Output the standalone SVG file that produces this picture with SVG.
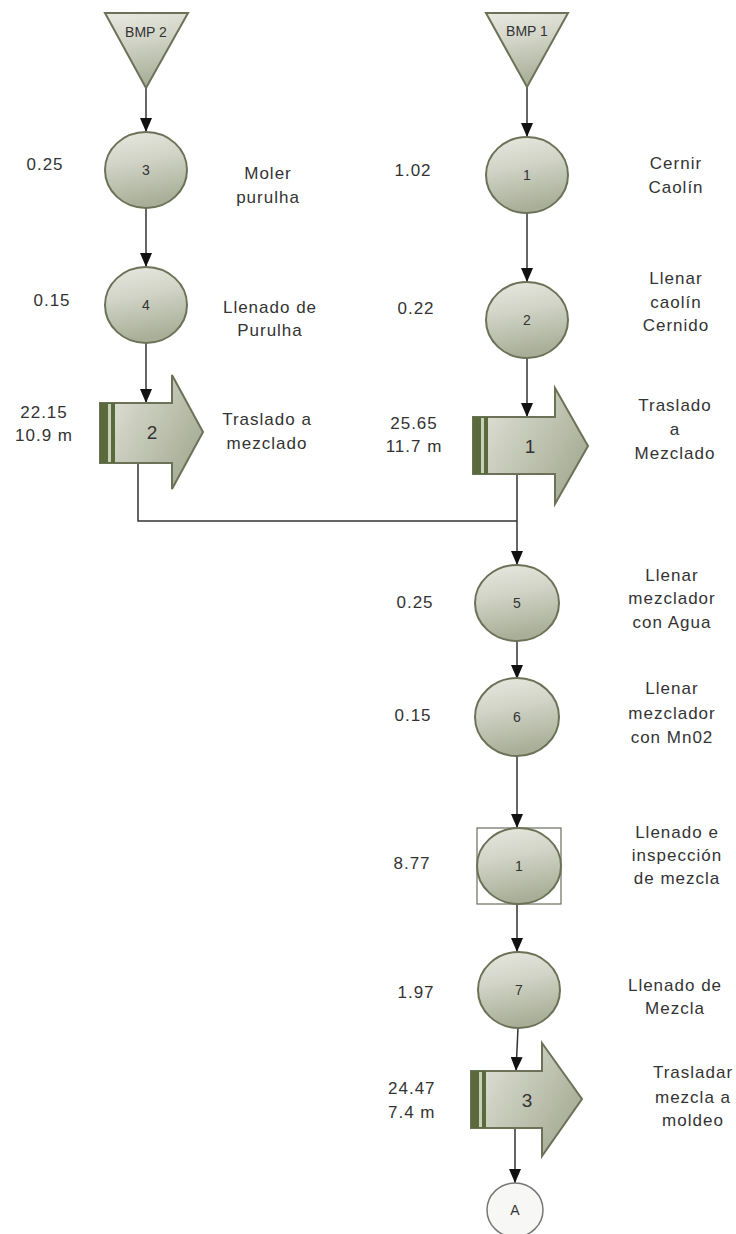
<svg xmlns="http://www.w3.org/2000/svg" width="736" height="1234" viewBox="0 0 736 1234">
  <defs>
    <linearGradient id="gOp" x1="0" y1="0" x2="0.2" y2="1">
      <stop offset="0" stop-color="#e8e9e1"/>
      <stop offset="0.45" stop-color="#d0d3c5"/>
      <stop offset="1" stop-color="#a9ae98"/>
    </linearGradient>
    <linearGradient id="gTr" x1="0" y1="0" x2="1" y2="0.6">
      <stop offset="0" stop-color="#e6e8de"/>
      <stop offset="1" stop-color="#a8ad96"/>
    </linearGradient>
    <marker id="ah" viewBox="0 0 14 12" refX="14" refY="6" markerWidth="14" markerHeight="12" markerUnits="userSpaceOnUse" orient="auto">
      <path d="M0,0 L14,6 L0,12 Z" fill="#111"/>
    </marker>
  </defs>
  <style>
    .op { fill: url(#gOp); stroke: #6b7257; stroke-width: 2; }
    .tr { fill: url(#gTr); stroke: #6b7257; stroke-width: 2; }
    .stripe { fill: #5b6a3c; }
    .stripe2 { fill: #c9d0b8; }
    .box { fill: none; stroke: #6b6f60; stroke-width: 1.2; }
    .term { fill: #f7f7f5; stroke: #777; stroke-width: 1.5; }
    .conn { fill: none; stroke: #333; stroke-width: 1.5; }
    .lbl { font-family: "Liberation Sans", Arial, sans-serif; font-size: 17px; fill: #333; letter-spacing: 1px; text-anchor: middle; }
    .num { font-family: "Liberation Sans", Arial, sans-serif; font-size: 14px; fill: #333; text-anchor: middle; }
    .big { font-family: "Liberation Sans", Arial, sans-serif; font-size: 19px; fill: #333; text-anchor: middle; }
    .bmp { font-family: "Liberation Sans", Arial, sans-serif; font-size: 14px; fill: #333; text-anchor: middle; }
  </style>

  <g id="connectors">
    <line class="conn" x1="146" y1="88" x2="146" y2="132" marker-end="url(#ah)"/>
    <line class="conn" x1="146" y1="208" x2="146" y2="267" marker-end="url(#ah)"/>
    <line class="conn" x1="146" y1="343" x2="146" y2="403" marker-end="url(#ah)"/>
    <polyline class="conn" points="138,463 138,521 517,521"/>
    <line class="conn" x1="527" y1="87" x2="527" y2="137" marker-end="url(#ah)"/>
    <line class="conn" x1="527" y1="213" x2="527" y2="282" marker-end="url(#ah)"/>
    <line class="conn" x1="527" y1="358" x2="527" y2="417" marker-end="url(#ah)"/>
    <line class="conn" x1="517" y1="474" x2="517" y2="565" marker-end="url(#ah)"/>
    <line class="conn" x1="517" y1="641" x2="517" y2="679" marker-end="url(#ah)"/>
    <line class="conn" x1="517" y1="756" x2="517" y2="828" marker-end="url(#ah)"/>
    <line class="conn" x1="517" y1="904" x2="517" y2="952" marker-end="url(#ah)"/>
    <line class="conn" x1="518" y1="1028" x2="516" y2="1071" marker-end="url(#ah)"/>
    <line class="conn" x1="515" y1="1128" x2="515" y2="1183" marker-end="url(#ah)"/>
  </g>

  <g id="bmp2">
    <polygon class="op" points="105,13 188,13 146,88"/>
    <text class="bmp" x="146" y="37">BMP 2</text>
  </g>
  <g id="op3">
    <ellipse class="op" cx="146" cy="170" rx="41" ry="38"/>
    <text class="num" x="146" y="175">3</text>
    <text class="lbl" x="45" y="170">0.25</text>
    <text class="lbl" x="268" y="179">Moler</text>
    <text class="lbl" x="268" y="203">purulha</text>
  </g>
  <g id="op4">
    <ellipse class="op" cx="146" cy="305" rx="41" ry="38"/>
    <text class="num" x="146" y="310">4</text>
    <text class="lbl" x="52" y="306">0.15</text>
    <text class="lbl" x="270" y="313">Llenado de</text>
    <text class="lbl" x="270" y="336">Purulha</text>
  </g>
  <g id="tr2">
    <path class="tr" d="M100,403 H172 V375 L203,432 L172,489 V463 H100 Z"/>
    <rect class="stripe" x="100" y="403" width="15" height="60"/>
    <rect class="stripe2" x="108" y="404" width="3" height="58"/>
    <text class="big" x="152" y="439">2</text>
    <text class="lbl" x="44" y="418">22.15</text>
    <text class="lbl" x="44" y="441">10.9 m</text>
    <text class="lbl" x="267" y="425">Traslado a</text>
    <text class="lbl" x="267" y="449">mezclado</text>
  </g>

  <g id="bmp1">
    <polygon class="op" points="486,13 568,13 527,87"/>
    <text class="bmp" x="527" y="36">BMP 1</text>
  </g>
  <g id="op1">
    <ellipse class="op" cx="527" cy="175" rx="41" ry="38"/>
    <text class="num" x="527" y="180">1</text>
    <text class="lbl" x="413" y="176">1.02</text>
    <text class="lbl" x="676" y="169">Cernir</text>
    <text class="lbl" x="676" y="193">Caolín</text>
  </g>
  <g id="op2">
    <ellipse class="op" cx="527" cy="320" rx="41" ry="38"/>
    <text class="num" x="527" y="325">2</text>
    <text class="lbl" x="416" y="314">0.22</text>
    <text class="lbl" x="676" y="284">Llenar</text>
    <text class="lbl" x="676" y="308">caolín</text>
    <text class="lbl" x="676" y="331">Cernido</text>
  </g>
  <g id="tr1">
    <path class="tr" d="M473,417 H555 V388 L588,446 L555,504 V474 H473 Z"/>
    <rect class="stripe" x="473" y="417" width="15" height="57"/>
    <rect class="stripe2" x="481" y="418" width="3" height="55"/>
    <text class="big" x="530" y="453">1</text>
    <text class="lbl" x="414" y="429">25.65</text>
    <text class="lbl" x="414" y="452">11.7 m</text>
    <text class="lbl" x="675" y="411">Traslado</text>
    <text class="lbl" x="675" y="435">a</text>
    <text class="lbl" x="675" y="459">Mezclado</text>
  </g>
  <g id="op5">
    <ellipse class="op" cx="517" cy="603" rx="42" ry="38"/>
    <text class="num" x="517" y="608">5</text>
    <text class="lbl" x="415" y="608">0.25</text>
    <text class="lbl" x="672" y="581">Llenar</text>
    <text class="lbl" x="672" y="604">mezclador</text>
    <text class="lbl" x="672" y="628">con Agua</text>
  </g>
  <g id="op6">
    <ellipse class="op" cx="517" cy="717" rx="42" ry="39"/>
    <text class="num" x="517" y="722">6</text>
    <text class="lbl" x="413" y="721">0.15</text>
    <text class="lbl" x="672" y="694">Llenar</text>
    <text class="lbl" x="672" y="719">mezclador</text>
    <text class="lbl" x="672" y="743">con Mn02</text>
  </g>
  <g id="insp1">
    <rect class="box" x="477" y="828" width="84" height="76"/>
    <ellipse class="op" cx="519" cy="866" rx="42" ry="38"/>
    <text class="num" x="519" y="871">1</text>
    <text class="lbl" x="412" y="869">8.77</text>
    <text class="lbl" x="677" y="838">Llenado e</text>
    <text class="lbl" x="677" y="861">inspección</text>
    <text class="lbl" x="677" y="884">de mezcla</text>
  </g>
  <g id="op7">
    <ellipse class="op" cx="519" cy="990" rx="41" ry="38"/>
    <text class="num" x="519" y="995">7</text>
    <text class="lbl" x="416" y="998">1.97</text>
    <text class="lbl" x="675" y="991">Llenado de</text>
    <text class="lbl" x="675" y="1014">Mezcla</text>
  </g>
  <g id="tr3">
    <path class="tr" d="M471,1071 H542 V1043 L582,1099 L542,1156 V1128 H471 Z"/>
    <rect class="stripe" x="471" y="1071" width="15" height="57"/>
    <rect class="stripe2" x="479" y="1072" width="3" height="55"/>
    <text class="big" x="527" y="1107">3</text>
    <text class="lbl" x="388" y="1094" style="text-anchor:start">24.47</text>
    <text class="lbl" x="388" y="1118" style="text-anchor:start">7.4 m</text>
    <text class="lbl" x="693" y="1078">Trasladar</text>
    <text class="lbl" x="693" y="1103">mezcla a</text>
    <text class="lbl" x="693" y="1126">moldeo</text>
  </g>
  <g id="connA">
    <ellipse class="term" cx="515" cy="1210" rx="28" ry="27"/>
    <text class="num" x="515" y="1215">A</text>
  </g>
</svg>
